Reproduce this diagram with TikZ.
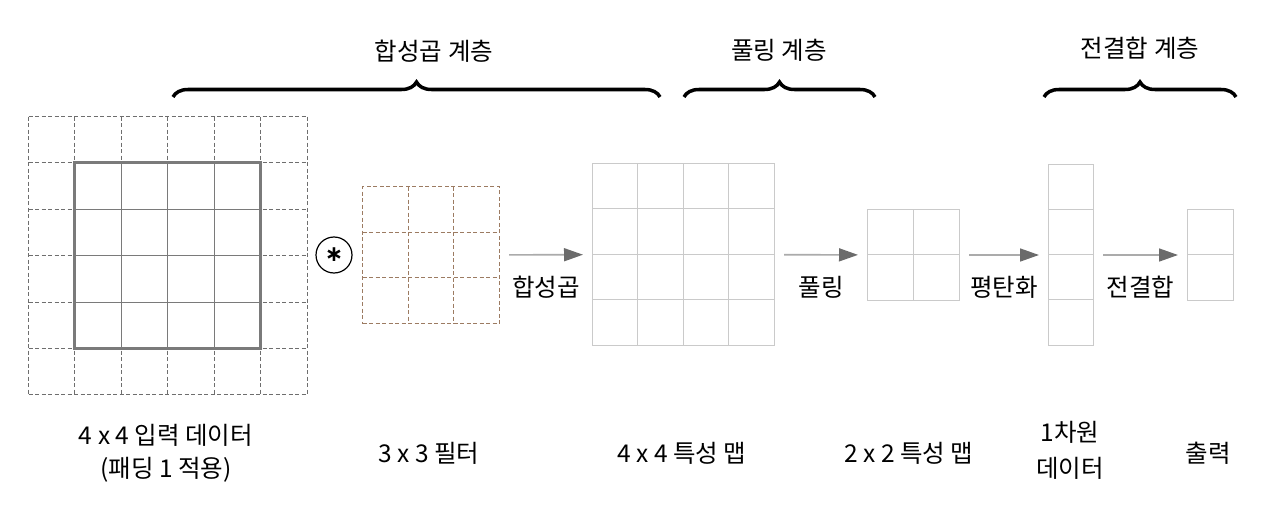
\documentclass[tikz,border=0pt]{standalone}
\usepackage{fontspec}
\setmainfont{Noto Sans CJK KR}
\newfontfamily\symfont{DejaVu Sans}
\usetikzlibrary{positioning,arrows.meta,decorations.pathreplacing}

\definecolor{padgray}{HTML}{6E6E6E}
\definecolor{ingray}{HTML}{7A7A7A}
\definecolor{mapgray}{HTML}{CACACA}
\definecolor{filtbrown}{HTML}{9C7B62}

\tikzset{
  lbl/.style={font=\fontsize{24.5}{33}\selectfont, align=center, inner sep=0pt},
  padline/.style={draw=padgray, line width=1.8pt, dash pattern=on 4pt off 2.5pt},
  inbox/.style={draw=ingray, fill=white, line width=2.6pt, inner sep=0pt, outer sep=0pt},
  inline/.style={draw=ingray, line width=1.7pt},
  filtbox/.style={draw=filtbrown, line width=1.8pt, dash pattern=on 4pt off 2.5pt, inner sep=0pt, outer sep=0pt},
  filtline/.style={draw=filtbrown, line width=1.8pt, dash pattern=on 4pt off 2.5pt},
  mapbox/.style={draw=mapgray, line width=1.6pt, inner sep=0pt, outer sep=0pt},
  mapline/.style={draw=mapgray, line width=1.6pt},
  flow/.style={draw=black!33, line width=1.6pt, shorten <=9.5pt, shorten >=9.5pt,
    -{Triangle[length=19pt,width=13pt,color=black!58]}},
  brace/.style={decorate, decoration={brace, amplitude=15pt}, line width=3.5pt},
}

\begin{document}
\begin{tikzpicture}[x=1pt,y=-1pt]
\useasboundingbox (0,0) rectangle (1280,511);

% input with padding
\foreach \x in {28.5,74.5,121.5,167.5,214.5,260.5,307.5}
  \draw[padline] (\x,116.5) -- (\x,394.5);
\foreach \y in {116.5,162.5,209.5,255.5,302.5,348.5,394.5}
  \draw[padline] (28.5,\y) -- (307.5,\y);
\node[inbox, minimum width=186pt, minimum height=186pt] (inp) at (167.5,255.5) {};
\foreach \z in {121.5,167.5,214.5} {
  \draw[inline] (\z,162.5) -- (\z,348.5);
  \draw[inline] (74.5,\z+88) -- (260.5,\z+88);
}

% convolution mark
\node[circle, draw, line width=1.2pt, minimum size=36pt, inner sep=0pt] (star) at (334,255)
  {\fontsize{22}{22}\selectfont\symfont\bfseries ∗};

% filter
\node[filtbox, minimum width=137pt, minimum height=137pt] (filt) at (431,255) {};
\foreach \z in {408.5,453.5}
  \draw[filtline] (\z,186.5) -- (\z,323.5);
\foreach \z in {232.5,277.5}
  \draw[filtline] (362.5,\z) -- (499.5,\z);

% feature maps
\node[mapbox, minimum width=182pt, minimum height=182pt] (conv) at (683.5,254.5) {};
\foreach \z in {637.5,683.5,728.5}
  \draw[mapline] (\z,163.5) -- (\z,345.5);
\foreach \z in {208.5,254.5,299.5}
  \draw[mapline] (592.5,\z) -- (774.5,\z);

\node[mapbox, minimum width=92pt, minimum height=91pt] (pool) at (913.5,255) {};
\draw[mapline] (913.5,209.5) -- (913.5,300.5);
\draw[mapline] (867.5,254.5) -- (959.5,254.5);

\node[mapbox, minimum width=45pt, minimum height=181pt] (flat) at (1071,255) {};
\foreach \z in {209.5,254.5,299.5}
  \draw[mapline] (1048.5,\z) -- (1093.5,\z);

\node[mapbox, minimum width=46pt, minimum height=91pt] (out) at (1210.5,255) {};
\draw[mapline] (1187.5,254.5) -- (1233.5,254.5);

% arrows
\draw[flow] (filt) -- node[lbl, yshift=-32.5pt] {합성곱} (conv);
\draw[flow] (conv) -- node[lbl, yshift=-32.5pt] {풀링} (pool);
\draw[flow] (pool) -- node[lbl, yshift=-32.5pt] {평탄화} (flat);
\draw[flow] (flat) -- node[lbl, yshift=-32.5pt] {전결합} (out);

% layer braces
\draw[brace] (173,97) -- (660,97);
\draw[brace] (684,97) -- (875,97);
\draw[brace] (1044,97) -- (1236,97);
\node[lbl] (convlayer) at (434,51) {합성곱 계층};
\node[lbl] (poollayer) at (779,50) {풀링 계층};
\node[lbl] (fclayer) at (1140,48) {전결합 계층};

% captions
\node[lbl] (inptxt) at (166,453.5) {4 x 4 입력 데이터\\(패딩 1 적용)};
\node[lbl] (filttxt) at (429,453) {3 x 3 필터};
\node[lbl] (convtxt) at (682,453) {4 x 4 특성 맵};
\node[lbl] (pooltxt) at (909,453) {2 x 2 특성 맵};
\node[lbl] (flattxt) at (1070,450) {1차원\\[3pt]데이터};
\node[lbl] (outtxt) at (1208,453) {출력};
\end{tikzpicture}
\end{document}
